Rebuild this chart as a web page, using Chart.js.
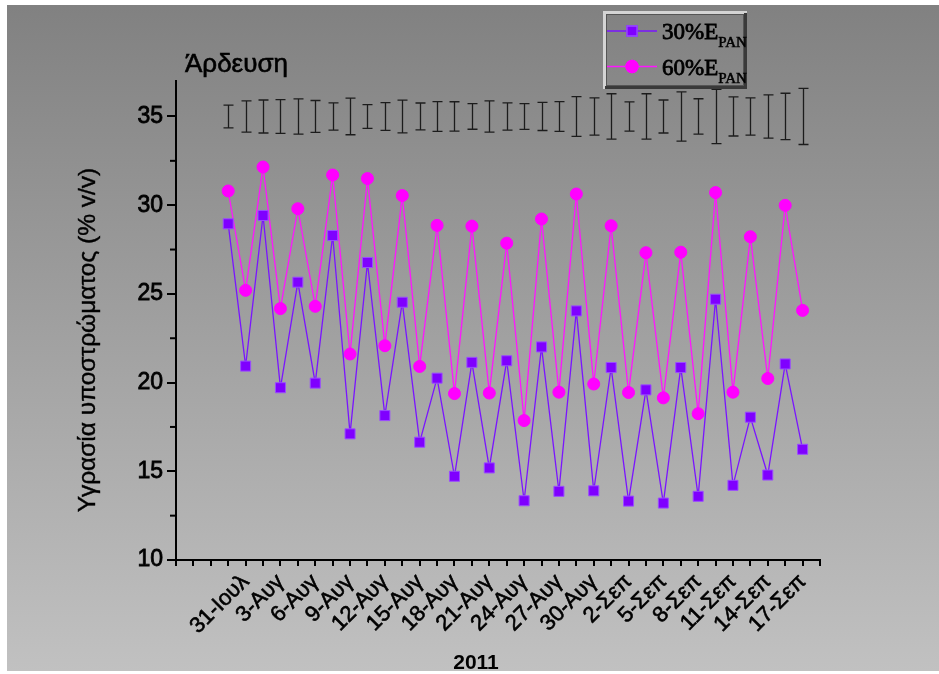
<!DOCTYPE html>
<html lang="el">
<head>
<meta charset="utf-8">
<title>Άρδευση</title>
<script src="https://cdn.jsdelivr.net/npm/chart.js@4.4.1/dist/chart.umd.min.js"></script>
<style>
  html, body { margin: 0; padding: 0; background: #fff; }
  canvas { display: block; }
</style>
</head>
<body>
<canvas id="moistureChart" width="939" height="674"></canvas>
<script>
// date labels, one on every second slot of the x axis
const dateLabels = ['31-Ιουλ', '3-Αυγ', '6-Αυγ', '9-Αυγ', '12-Αυγ', '15-Αυγ', '18-Αυγ', '21-Αυγ', '24-Αυγ',
  '27-Αυγ', '30-Αυγ', '2-Σεπ', '5-Σεπ', '8-Σεπ', '11-Σεπ', '14-Σεπ', '17-Σεπ'];

// substrate moisture (% v/v), 30% and 60% of pan evaporation
const moisture30 = [28.95, 20.93, 29.42, 19.71, 25.66, 19.97, 28.29, 17.11, 26.77, 18.14, 24.53, 16.64,
  20.25, 14.72, 21.14, 15.19, 21.23, 13.34, 22.01, 13.87, 24.04, 13.90, 20.85, 13.32, 19.59, 13.21,
  20.85, 13.59, 24.70, 14.21, 18.05, 14.79, 21.05, 16.24];
const moisture60 = [30.80, 25.20, 32.15, 24.17, 29.80, 24.30, 31.70, 21.61, 31.50, 22.08, 30.54, 20.91,
  28.86, 19.38, 28.82, 19.41, 27.86, 17.86, 29.22, 19.46, 30.63, 19.92, 28.84, 19.44, 27.32, 19.14,
  27.35, 18.25, 30.71, 19.46, 28.22, 20.23, 29.99, 24.07];

// error bars drawn around a fixed level above the series
const errLevel = 35;
const errHalf = [0.64, 0.88, 0.93, 0.95, 0.99, 0.90, 0.77, 1.03, 0.67, 0.78, 0.92, 0.76, 0.84, 0.83,
  0.72, 0.88, 0.77, 0.73, 0.79, 0.84, 1.12, 1.05, 1.28, 0.82, 1.28, 0.93, 1.39, 1.00, 1.53, 1.10,
  1.05, 1.22, 1.31, 1.58];

const legendText = ['30%E', '60%E'];
const legendSub = 'PAN';

const firstSlot = 3;   // slot of the first measurement
const labelSlot = 4;   // slot of the first date label
const lastSlot = 37;

const toPoints = arr => arr.map((v, i) => ({ x: firstSlot + i, y: v }));

const SANS = '"Liberation Sans", Arial, sans-serif';
const SERIF = '"Liberation Serif", "Times New Roman", serif';

// filled text with a thin outline so it reads a little heavier
function heavyText(ctx, text, x, y, stroke) {
  ctx.lineWidth = stroke;
  ctx.strokeStyle = '#000';
  ctx.strokeText(text, x, y);
  ctx.fillText(text, x, y);
}

const decorPlugin = {
  id: 'decor',
  beforeDraw(chart) {
    const { ctx, width, height } = chart;
    ctx.save();
    ctx.fillStyle = '#fff';
    ctx.fillRect(0, 0, width, height);
    const g = ctx.createLinearGradient(0, 5, 0, 671);
    g.addColorStop(0, '#818181');
    g.addColorStop(1, '#c1c1c1');
    ctx.fillStyle = g;
    ctx.fillRect(7, 5, width - 7, 666);
    ctx.restore();
  },
  afterDatasetsDraw(chart) {
    const { ctx } = chart;
    const xs = chart.scales.x, ys = chart.scales.y;
    ctx.save();
    ctx.strokeStyle = '#1c1c1c';
    ctx.lineWidth = 1.3;
    errHalf.forEach((h, i) => {
      const x = Math.round(xs.getPixelForValue(firstSlot + i)) + 0.5;
      const top = ys.getPixelForValue(errLevel + h);
      const bot = ys.getPixelForValue(errLevel - h);
      ctx.beginPath();
      ctx.moveTo(x, top); ctx.lineTo(x, bot);
      ctx.moveTo(x - 5, top); ctx.lineTo(x + 5, top);
      ctx.moveTo(x - 5, bot); ctx.lineTo(x + 5, bot);
      ctx.stroke();
    });
    ctx.restore();
  },
  afterDraw(chart) {
    const { ctx } = chart;
    const ys = chart.scales.y;
    ctx.save();

    // short minor ticks on the y axis
    ctx.strokeStyle = '#000';
    ctx.lineWidth = 2;
    ys.ticks.forEach(t => {
      if (t.value % 5 === 0) return;
      const y = ys.getPixelForValue(t.value);
      ctx.beginPath();
      ctx.moveTo(ys.right - 6, y);
      ctx.lineTo(ys.right, y);
      ctx.stroke();
    });

    ctx.fillStyle = '#000';
    ctx.font = '26px ' + SANS;
    ctx.textAlign = 'left';
    ctx.textBaseline = 'alphabetic';
    heavyText(ctx, 'Άρδευση', 185, 72, 0.6);

    ctx.font = 'bold 21px ' + SANS;
    ctx.textAlign = 'center';
    ctx.fillText('2011', 476, 669);

    ctx.save();
    ctx.translate(88, 340);
    ctx.rotate(-Math.PI / 2);
    ctx.font = '24.5px ' + SANS;
    ctx.textBaseline = 'middle';
    heavyText(ctx, 'Υγρασία υποστρώματος (% v/v)', 0, 0, 0.4);
    ctx.restore();

    // legend box with bevelled frame
    const lx = 603, ly = 11, lw = 144, lh = 78;
    ctx.fillStyle = '#d4d4d4';
    ctx.fillRect(lx, ly, lw, 3);
    ctx.fillRect(lx, ly, 3, lh);
    ctx.fillStyle = '#3a3a3a';
    ctx.fillRect(lx + 2, ly + lh - 3, lw - 2, 3);
    ctx.fillRect(lx + lw - 3, ly + 2, 3, lh - 2);
    ctx.strokeStyle = '#555';
    ctx.lineWidth = 1;
    ctx.strokeRect(lx + 3.5, ly + 3.5, lw - 7, lh - 7);

    chart.data.datasets.slice(0, 2).forEach((ds, i) => {
      const y = 31 + i * 35.5;
      ctx.strokeStyle = ds.borderColor;
      ctx.lineWidth = 1.3;
      ctx.beginPath();
      ctx.moveTo(607, y);
      ctx.lineTo(657, y);
      ctx.stroke();
      Chart.helpers.drawPoint(ctx, {
        pointStyle: ds.pointStyle, radius: ds.pointRadius, borderWidth: 1
      }, 632, y);
      ctx.fillStyle = ds.pointBackgroundColor;
      ctx.strokeStyle = ds.pointBorderColor;
      ctx.fill();
      ctx.stroke();

      ctx.fillStyle = '#000';
      ctx.textAlign = 'left';
      ctx.textBaseline = 'alphabetic';
      ctx.font = '23px ' + SERIF;
      heavyText(ctx, legendText[i], 662, y + 8, 0.8);
      const w = ctx.measureText(legendText[i]).width;
      ctx.font = '15px ' + SERIF;
      heavyText(ctx, legendSub, 662 + w, y + 16, 0.5);
    });

    ctx.restore();
  }
};

new Chart(document.getElementById('moistureChart'), {
  type: 'line',
  data: {
    datasets: [
      {
        label: '30%E PAN',
        data: toPoints(moisture30),
        borderColor: '#7a14ff',
        borderWidth: 1.3,
        pointStyle: 'rect',
        pointRadius: 7.1,
        pointBackgroundColor: '#7f00ff',
        pointBorderColor: '#9a4dff',
        pointBorderWidth: 1,
        tension: 0
      },
      {
        label: '60%E PAN',
        data: toPoints(moisture60),
        borderColor: '#ff14ff',
        borderWidth: 1.3,
        pointStyle: 'circle',
        pointRadius: 6,
        pointBackgroundColor: '#ff00ff',
        pointBorderColor: '#ff00ff',
        pointBorderWidth: 1,
        tension: 0
      }
    ]
  },
  options: {
    responsive: false,
    animation: false,
    devicePixelRatio: 1,
    layout: { padding: { left: 0, top: 81, right: 119, bottom: 0 } },
    plugins: {
      legend: { display: false },
      tooltip: { enabled: false }
    },
    scales: {
      x: {
        type: 'linear',
        min: 0,
        max: lastSlot,
        afterFit: s => { s.height = 114; },
        border: { display: true, color: '#000', width: 2 },
        grid: { drawOnChartArea: false, color: '#000', lineWidth: 2, tickLength: 6 },
        ticks: {
          stepSize: 1,
          autoSkip: false,
          maxRotation: 45,
          minRotation: 45,
          padding: 3,
          color: '#000',
          textStrokeColor: '#000',
          textStrokeWidth: 0.6,
          font: { family: SANS, size: 22 },
          callback: v => {
            const k = v - labelSlot;
            return k >= 0 && k % 2 === 0 ? dateLabels[k / 2] : '';
          }
        }
      },
      y: {
        min: 10,
        max: 37,
        afterFit: s => { s.width = 176; },
        border: { display: true, color: '#000', width: 2 },
        grid: {
          drawOnChartArea: false,
          lineWidth: 2,
          tickLength: 9,
          color: c => (c.tick && c.tick.value % 5 === 0 ? '#000' : 'rgba(0,0,0,0)')
        },
        ticks: {
          stepSize: 2.5,
          includeBounds: false,
          padding: 4,
          color: '#000',
          textStrokeColor: '#000',
          textStrokeWidth: 0.8,
          font: { family: SANS, size: 23 },
          callback: v => (v % 5 === 0 ? v : '')
        }
      }
    }
  },
  plugins: [decorPlugin]
});
</script>
</body>
</html>
